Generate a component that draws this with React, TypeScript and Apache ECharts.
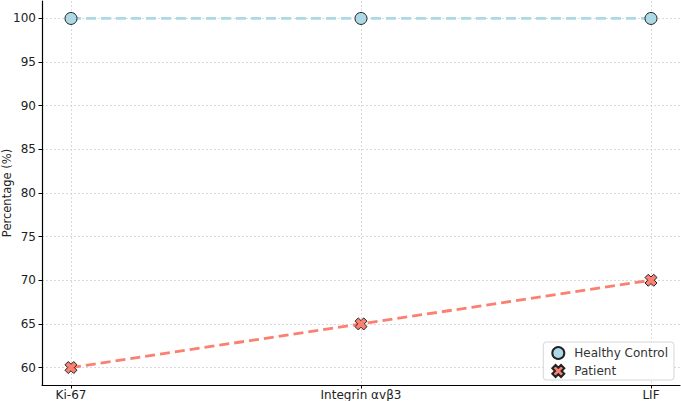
import React, { useEffect, useRef } from "react";
import * as echarts from "echarts";

const categories = ["Ki-67", "Integrin αvβ3", "LIF"];
const healthyControl = [100, 100, 100];
const patient = [60, 65, 70];
const yTicks = [60, 65, 70, 75, 80, 85, 90, 95, 100];

const X_PATH =
  "path://M-1,-2.2 L0,-1.2 L1,-2.2 L2.2,-1 L1.2,0 L2.2,1 L1,2.2 L0,1.2 L-1,2.2 L-2.2,1 L-1.2,0 L-2.2,-1 Z";

export default function App() {
  const ref = useRef<HTMLDivElement>(null);
  useEffect(() => {
    document.body.style.margin = "0";
    if (!ref.current) return;
    const chart = echarts.init(ref.current, undefined, { renderer: "svg" });
    const font = "DejaVu Sans";
    chart.setOption({
      animation: false,
      textStyle: { fontFamily: font },
      grid: { left: 42, right: 1, top: 1, bottom: 16, containLabel: false, outerBoundsMode: "none" },
      xAxis: {
        type: "value",
        min: -0.1,
        max: 2.1,
        axisLine: { show: true, onZero: false, lineStyle: { color: "#000", width: 1.2 } },
        axisTick: { show: true, customValues: [0, 1, 2], length: 3.5, lineStyle: { color: "#000" } },
        axisLabel: {
          customValues: [0, 1, 2],
          formatter: (v: number) => categories[Math.round(v)] ?? "",
          color: "#222",
          fontSize: 12,
          margin: 4,
          fontFamily: font,
        },
        splitLine: { show: true, lineStyle: { color: "#d0d0d0", type: [2, 2], width: 0.8 } },
      },
      yAxis: {
        type: "value",
        min: 58,
        max: 102,
        name: "Percentage (%)",
        nameLocation: "middle",
        nameGap: 29,
        nameMoveOverlap: false,
        nameTextStyle: { color: "#222", fontSize: 11.5, fontFamily: font },
        axisLine: { show: true, onZero: false, lineStyle: { color: "#000", width: 1.2 } },
        axisTick: { show: true, customValues: yTicks, length: 3.5, lineStyle: { color: "#000" } },
        axisLabel: {
          customValues: yTicks,
          color: "#222",
          fontSize: 12,
          margin: 6,
          fontFamily: font,
        },
        splitLine: { show: true, lineStyle: { color: "#d0d0d0", type: [2, 2], width: 0.8 } },
      },
      legend: {
        orient: "vertical",
        right: 7,
        bottom: 21,
        backgroundColor: "rgba(255,255,255,0.9)",
        borderColor: "#d6d6d6",
        borderWidth: 1,
        borderRadius: 3,
        padding: [4, 6, 2, 8],
        itemGap: 4,
        itemWidth: 12,
        itemHeight: 12,
        textStyle: { color: "#333", fontSize: 12, fontFamily: font, padding: [0, 0, 0, 5] },
        data: [
          { name: "Healthy Control", icon: "circle" },
          { name: "Patient", icon: X_PATH },
        ],
      },
      series: [
        {
          name: "Healthy Control",
          type: "line",
          data: healthyControl.map((v, i) => [i, v]),
          symbol: "circle",
          symbolSize: 12,
          lineStyle: { color: "#add8e6", width: 2.8, type: [10, 5] },
          itemStyle: { color: "#add8e6", borderColor: "#222", borderWidth: 1 },
        },
        {
          name: "Patient",
          type: "line",
          data: patient.map((v, i) => [i, v]),
          symbol: X_PATH,
          symbolSize: 12,
          lineStyle: { color: "#fa8072", width: 2.8, type: [10, 5] },
          itemStyle: { color: "#fa8072", borderColor: "#222", borderWidth: 1 },
        },
      ],
    });
    return () => chart.dispose();
  }, []);
  return <div ref={ref} style={{ width: 681, height: 401 }} />;
}
